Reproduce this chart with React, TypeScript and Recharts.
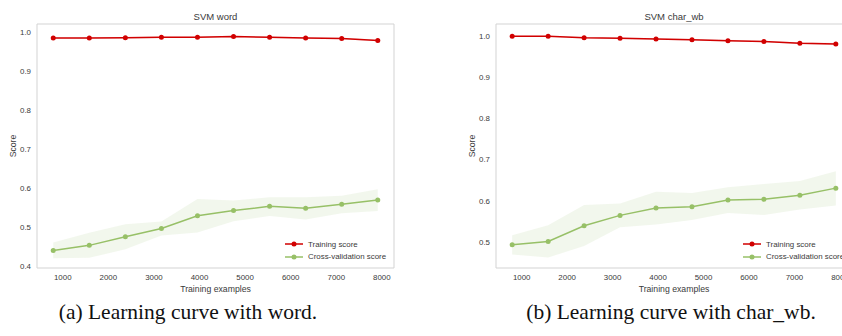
import {
  ComposedChart,
  Line,
  Area,
  XAxis,
  YAxis,
  CartesianGrid,
  Legend,
  Label,
} from "recharts";

const trainSizes = [791, 1582, 2373, 3164, 3955, 4746, 5537, 6328, 7119, 7910];
const xTicks = [1000, 2000, 3000, 4000, 5000, 6000, 7000, 8000];
const seriesNames = ["Training score", "Cross-validation score"];

// SVM word
const wordTrain = [0.985, 0.985, 0.986, 0.987, 0.987, 0.989, 0.987, 0.985, 0.984, 0.979];
const wordTrainLow = [0.983, 0.983, 0.984, 0.985, 0.985, 0.987, 0.985, 0.983, 0.982, 0.977];
const wordTrainHigh = [0.987, 0.987, 0.988, 0.989, 0.989, 0.991, 0.989, 0.987, 0.986, 0.981];
const wordCv = [0.441, 0.454, 0.476, 0.497, 0.53, 0.543, 0.554, 0.549, 0.559, 0.57];
const wordCvLow = [0.421, 0.422, 0.444, 0.479, 0.487, 0.516, 0.529, 0.52, 0.536, 0.542];
const wordCvHigh = [0.461, 0.486, 0.508, 0.515, 0.573, 0.569, 0.577, 0.577, 0.581, 0.598];
const wordYTicks = [0.4, 0.5, 0.6, 0.7, 0.8, 0.9, 1.0];

// SVM char_wb
const charTrain = [0.999, 0.999, 0.995, 0.994, 0.992, 0.99, 0.988, 0.986, 0.982, 0.98];
const charTrainLow = [0.998, 0.998, 0.993, 0.992, 0.99, 0.988, 0.986, 0.984, 0.98, 0.977];
const charTrainHigh = [1.0, 1.0, 0.997, 0.996, 0.994, 0.992, 0.99, 0.988, 0.984, 0.983];
const charCv = [0.494, 0.502, 0.54, 0.565, 0.583, 0.586, 0.602, 0.604, 0.614, 0.631];
const charCvLow = [0.47, 0.463, 0.491, 0.536, 0.543, 0.554, 0.571, 0.566, 0.579, 0.589];
const charCvHigh = [0.517, 0.541, 0.59, 0.594, 0.622, 0.619, 0.633, 0.641, 0.648, 0.672];
const charYTicks = [0.5, 0.6, 0.7, 0.8, 0.9, 1.0];

const FONT = '"Liberation Sans", Arial, sans-serif';
const TEXT = "#3a3a3a";
const RED = "#d10000";
const GREEN = "#97c067";
const FRAME = "#d3d3d3";

type CurveProps = {
  title: string;
  train: number[];
  trainLow: number[];
  trainHigh: number[];
  cv: number[];
  cvLow: number[];
  cvHigh: number[];
  yDomain: [number, number];
  yTicks: number[];
  width: number;
  margin: { top: number; right: number; bottom: number; left: number };
};

const LegendBox = (props: any) => {
  const items = (props.payload || [])
    .filter((p: any) => p.type !== "none")
    .sort((a: any, b: any) => seriesNames.indexOf(a.value) - seriesNames.indexOf(b.value));
  return (
    <div style={{ fontFamily: FONT, fontSize: 7.9, color: TEXT }}>
      {items.map((it: any) => (
        <div key={it.value} style={{ display: "flex", alignItems: "center", height: 12.4 }}>
          <svg width={18} height={8} style={{ marginRight: 5 }}>
            <line x1={0} y1={4} x2={18} y2={4} stroke={it.color} strokeWidth={1.5} />
            <circle cx={9} cy={4} r={2.5} fill={it.color} />
          </svg>
          <span style={{ whiteSpace: "nowrap" }}>{it.value}</span>
        </div>
      ))}
    </div>
  );
};

const LearningCurve = (p: CurveProps) => {
  const rows = trainSizes.map((size, i) => ({
    size,
    train: p.train[i],
    trainBand: [p.trainLow[i], p.trainHigh[i]],
    cv: p.cv[i],
    cvBand: [p.cvLow[i], p.cvHigh[i]],
  }));
  const plotLeft = p.margin.left + 30;
  const plotRight = p.width - p.margin.right;
  const height = 300;
  return (
    <div style={{ position: "relative", width: p.width, height }}>
      <div
        style={{
          position: "absolute",
          left: plotLeft,
          width: plotRight - plotLeft,
          top: 11,
          textAlign: "center",
          fontFamily: FONT,
          fontSize: 9.5,
          color: TEXT,
        }}
      >
        {p.title}
      </div>
      <ComposedChart width={p.width} height={height} data={rows} margin={p.margin}>
        <CartesianGrid
          stroke={FRAME}
          strokeWidth={1}
          horizontalCoordinatesGenerator={(g: any) => [g.offset.top, g.offset.top + g.offset.height]}
          verticalCoordinatesGenerator={(g: any) => [g.offset.left, g.offset.left + g.offset.width]}
        />
        <XAxis
          dataKey="size"
          type="number"
          domain={[435, 8266]}
          ticks={xTicks}
          height={20}
          axisLine={false}
          tickLine={false}
          tickMargin={0}
          tick={{ fontFamily: FONT, fontSize: 7.9, fill: TEXT }}
        >
          <Label
            content={(lp: any) => {
              const vb = lp.viewBox;
              return (
                <text
                  x={vb.x + vb.width / 2}
                  y={vb.y + 20.5}
                  textAnchor="middle"
                  dominantBaseline="central"
                  fontFamily={FONT}
                  fontSize={8.7}
                  fill={TEXT}
                >
                  Training examples
                </text>
              );
            }}
          />
        </XAxis>
        <YAxis
          type="number"
          domain={p.yDomain}
          ticks={p.yTicks}
          width={30}
          axisLine={false}
          tickLine={false}
          tickMargin={0}
          tickFormatter={(v: number) => v.toFixed(1)}
          tick={{ fontFamily: FONT, fontSize: 7.9, fill: TEXT }}
          allowDataOverflow
        >
          <Label
            content={(lp: any) => {
              const vb = lp.viewBox;
              const cx = vb.x + vb.width - 24;
              const cy = vb.y + vb.height / 2;
              return (
                <text
                  x={cx}
                  y={cy}
                  transform={`rotate(-90 ${cx} ${cy})`}
                  textAnchor="middle"
                  dominantBaseline="central"
                  fontFamily={FONT}
                  fontSize={8.7}
                  fill={TEXT}
                >
                  Score
                </text>
              );
            }}
          />
        </YAxis>
        <Area
          dataKey="trainBand"
          stroke="none"
          fill={RED}
          fillOpacity={0.1}
          legendType="none"
          isAnimationActive={false}
        />
        <Area
          dataKey="cvBand"
          stroke="none"
          fill={GREEN}
          fillOpacity={0.12}
          legendType="none"
          isAnimationActive={false}
        />
        <Line
          dataKey="train"
          name={seriesNames[0]}
          stroke={RED}
          strokeWidth={1.5}
          dot={{ r: 2.5, fill: RED, stroke: RED, strokeWidth: 0 }}
          activeDot={false}
          isAnimationActive={false}
        />
        <Line
          dataKey="cv"
          name={seriesNames[1]}
          stroke={GREEN}
          strokeWidth={1.5}
          dot={{ r: 2.5, fill: GREEN, stroke: GREEN, strokeWidth: 0 }}
          activeDot={false}
          isAnimationActive={false}
        />
        <Legend
          layout="horizontal"
          verticalAlign="middle"
          align="center"
          content={LegendBox}
          wrapperStyle={{ left: plotRight - 109, top: 238, width: "auto" }}
        />
      </ComposedChart>
    </div>
  );
};

const captionStyle = {
  position: "absolute" as const,
  top: 300,
  fontFamily: '"Liberation Serif", "Times New Roman", serif',
  fontSize: 21.5,
  color: "#111",
  whiteSpace: "nowrap" as const,
  transform: "translateX(-50%)",
};

export default function App() {
  return (
    <div
      style={{
        position: "absolute",
        left: 0,
        top: 0,
        width: 842,
        height: 336,
        overflow: "hidden",
        background: "#fff",
      }}
    >
      <div style={{ position: "absolute", left: 0, top: 0 }}>
        <LearningCurve
          title="SVM word"
          train={wordTrain}
          trainLow={wordTrainLow}
          trainHigh={wordTrainHigh}
          cv={wordCv}
          cvLow={wordCvLow}
          cvHigh={wordCvHigh}
          yDomain={[0.396, 1.021]}
          yTicks={wordYTicks}
          width={420}
          margin={{ top: 24, right: 26, bottom: 12, left: 7 }}
        />
      </div>
      <div style={{ position: "absolute", left: 420, top: 0 }}>
        <LearningCurve
          title="SVM char_wb"
          train={charTrain}
          trainLow={charTrainLow}
          trainHigh={charTrainHigh}
          cv={charCv}
          cvLow={charCvLow}
          cvHigh={charCvHigh}
          yDomain={[0.4376, 1.0284]}
          yTicks={charYTicks}
          width={460}
          margin={{ top: 24, right: 28, bottom: 12, left: 46 }}
        />
      </div>
      <div style={{ ...captionStyle, left: 188 }}>(a) Learning curve with word.</div>
      <div style={{ ...captionStyle, left: 671 }}>(b) Learning curve with char_wb.</div>
    </div>
  );
}
